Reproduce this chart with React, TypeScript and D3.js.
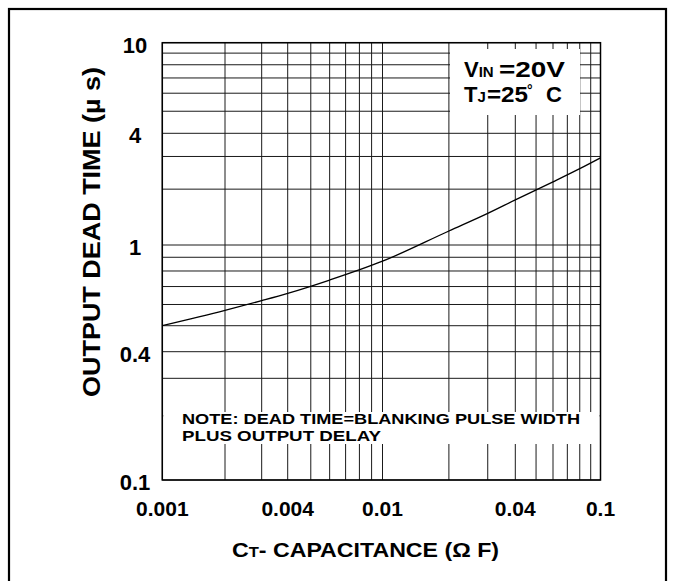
import React from 'react';
import * as d3 from 'd3';

// ---- data ----
const capacitance = [0.001, 0.002, 0.003, 0.004, 0.006, 0.01, 0.02, 0.03, 0.04, 0.06, 0.08, 0.1];
const deadTime = [0.5, 0.57, 0.62, 0.66, 0.74, 0.87, 1.19, 1.48, 1.75, 2.19, 2.58, 2.95];

const xTicks = [0.001, 0.004, 0.01, 0.04, 0.1];
const xTickLabels = ['0.001', '0.004', '0.01', '0.04', '0.1'];
const yTicks = [0.1, 0.4, 1, 4, 10];
const yTickLabels = ['0.1', '0.4', '1', '4', '10'];

const FONT = "'Liberation Sans', Arial, Helvetica, sans-serif";

export default function App() {
  const W = 674;
  const H = 581;
  const left = 162.3;
  const right = 600.5;
  const top = 42.7;
  const bottom = 480;

  // log axes calibrated on the labelled ticks of the scanned sheet
  const x = d3
    .scaleLog()
    .domain(xTicks)
    .range([left, 287.7, 382.5, 515.3, right]);
  const y = d3
    .scaleLog()
    .domain(yTicks)
    .range([bottom, 351.7, 245, 133.3, top]);

  const xGrid = x.ticks();
  const yGrid = y.ticks();

  const pts: [number, number][] = capacitance.map((c, i) => [c, deadTime[i]]);
  const line = d3
    .line<[number, number]>()
    .x((d) => x(d[0]))
    .y((d) => y(d[1]))
    .curve(d3.curveMonotoneX);

  const gridStroke = '#1a1a1a';

  return (
    <svg
      width={W}
      height={H}
      viewBox={`0 0 ${W} ${H}`}
      style={{ position: 'absolute', left: 0, top: 0, background: '#fff' }}
      fontFamily={FONT}
    >
      <rect x={0} y={0} width={W} height={H} fill="#fff" />
      {/* outer frame (bottom edge falls outside the picture) */}
      <rect x={9} y={9} width={657} height={620} fill="none" stroke="#000" strokeWidth={2.2} />

      {/* grid */}
      <g>
        {xGrid.map((v, i) => (
          <line
            key={'xg' + i}
            x1={x(v)}
            x2={x(v)}
            y1={top}
            y2={bottom}
            stroke={gridStroke}
            strokeWidth={1}
          />
        ))}
        {yGrid.map((v, i) => (
          <line
            key={'yg' + i}
            x1={left}
            x2={right}
            y1={y(v)}
            y2={y(v)}
            stroke={gridStroke}
            strokeWidth={1}
          />
        ))}
      </g>

      {/* white label panels over the grid */}
      <rect x={450} y={49} width={130} height={66} fill="#fff" />
      <rect x={left + 1} y={412} width={right - left - 2} height={32} fill="#fff" />

      {/* plot border */}
      <rect
        x={left}
        y={top}
        width={right - left}
        height={bottom - top}
        fill="none"
        stroke="#000"
        strokeWidth={1.5}
      />

      {/* curve */}
      <path d={line(pts) || ''} fill="none" stroke="#000" strokeWidth={1.3} />

      {/* y tick labels */}
      {yTicks.map((v, i) => (
        <text
          key={'yt' + i}
          x={135}
          y={y(v) + 10}
          textAnchor="middle"
          fontSize={22}
          fontWeight="bold"
          fill="#000"
        >
          {yTickLabels[i]}
        </text>
      ))}

      {/* x tick labels */}
      {xTicks.map((v, i) => (
        <text
          key={'xt' + i}
          x={x(v)}
          y={516}
          textAnchor="middle"
          fontSize={21}
          fontWeight="bold"
          fill="#000"
        >
          {xTickLabels[i]}
        </text>
      ))}

      {/* axis titles */}
      <text
        transform={`translate(100,232) rotate(-90)`}
        textAnchor="middle"
        fontSize={24}
        fontWeight="bold"
        fill="#000"
        textLength={330}
        lengthAdjust="spacingAndGlyphs"
      >
        OUTPUT  DEAD  TIME  (µ s)
      </text>
      <text
        x={232}
        y={557}
        fontSize={21}
        fontWeight="bold"
        fill="#000"
        textLength={267}
        lengthAdjust="spacingAndGlyphs"
      >
        C<tspan fontSize={15}>T</tspan>-  CAPACITANCE  (Ω F)
      </text>

      {/* conditions */}
      <text x={464} y={77} fontSize={22} fontWeight="bold" fill="#000">
        V<tspan fontSize={15}>IN</tspan>
      </text>
      <text x={499} y={77} fontSize={22} fontWeight="bold" fill="#000" textLength={66} lengthAdjust="spacingAndGlyphs">
        =20V
      </text>
      <text x={464} y={102} fontSize={22} fontWeight="bold" fill="#000">
        T<tspan fontSize={15}>J</tspan>
      </text>
      <text x={487} y={102} fontSize={22} fontWeight="bold" fill="#000" textLength={41} lengthAdjust="spacingAndGlyphs">
        =25
      </text>
      <text x={527} y={95} fontSize={14} fontWeight="bold" fill="#000">
        °
      </text>
      <text x={546} y={102} fontSize={22} fontWeight="bold" fill="#000">
        C
      </text>

      {/* note */}
      <text x={182} y={424} fontSize={15} fontWeight="bold" fill="#000" textLength={398} lengthAdjust="spacingAndGlyphs">
        NOTE: DEAD TIME=BLANKING PULSE WIDTH
      </text>
      <text x={182} y={441} fontSize={15} fontWeight="bold" fill="#000" textLength={199} lengthAdjust="spacingAndGlyphs">
        PLUS OUTPUT DELAY
      </text>
    </svg>
  );
}
